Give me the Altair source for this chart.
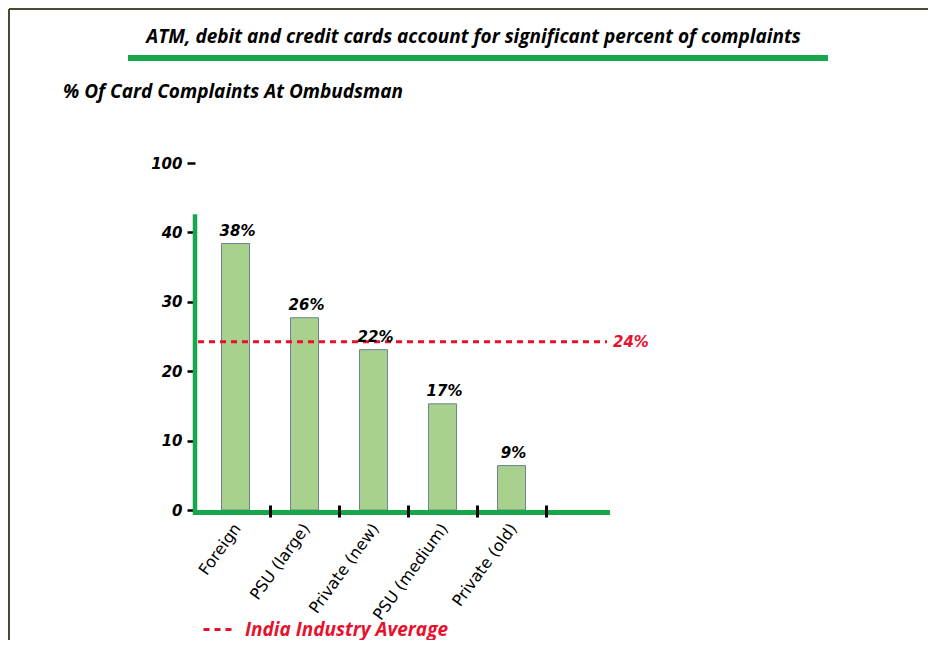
import altair as alt
import pandas as pd

# ---- data ----
categories = ["Foreign", "PSU (large)", "Private (new)", "PSU (medium)", "Private (old)"]
bar_values = [38.4, 27.7, 23.1, 15.3, 6.4]
bar_labels = ["38%", "26%", "22%", "17%", "9%"]

avg_series = ["India Industry Average"]
avg_values = [24.25]
avg_labels = ["24%"]

y_tick_values = [0, 10, 20, 30, 40, 50]
y_tick_texts = ["0", "10", "20", "30", "40", "100"]

title_text = ["ATM, debit and credit cards account for significant percent of complaints"]
subtitle_text = ["% Of Card Complaints At Ombudsman"]

# ---- styling ----
GREEN = "#17a64c"
RED = "#e8112d"
BAR_FILL = "#a9d18e"
BAR_STROKE = "#6b8291"
FRAME = "#4d4830"
HEAD_FONT = "Open Sans"
HEAD_SIZE = 19
W, H = 415, 347

bars_df = pd.DataFrame({"category": categories, "value": bar_values, "label": bar_labels})
avg_df = pd.DataFrame({"series": avg_series, "value": avg_values, "label": avg_labels})
one = pd.DataFrame({"k": [0]})
title_df = pd.DataFrame({"t": title_text})
sub_df = pd.DataFrame({"t": subtitle_text})

label_expr = "{" + ",".join(f"'{v}':'{t}'" for v, t in zip(y_tick_values, y_tick_texts)) + "}[datum.value]"

x_enc = alt.X(
    "category:N",
    sort=categories,
    title=None,
    scale=alt.Scale(paddingInner=0, paddingOuter=0.507, align=0.086),
    axis=alt.Axis(
        domain=False,
        ticks=True,
        tickColor="black",
        tickWidth=3,
        tickSize=12,
        bandPosition=1,
        offset=-5,
        labelAngle=-54,
        labelAlign="right",
        labelBaseline="middle",
        labelPadding=8,
        labelOffset=2,
        labelFont="DejaVu Sans",
        labelFontSize=16,
        labelColor="black",
        labelLimit=0,
        zindex=1,
        grid=False,
    ),
)

y_enc = alt.Y(
    "value:Q",
    title=None,
    scale=alt.Scale(domain=[0, 50], nice=False, zero=True),
    axis=alt.Axis(
        values=y_tick_values,
        labelExpr=label_expr,
        domain=False,
        grid=False,
        tickColor="black",
        tickSize=8,
        tickWidth=2.5,
        labelPadding=5,
        labelFont="DejaVu Sans",
        labelFontSize=15,
        labelFontWeight="bold",
        labelFontStyle="italic",
        labelColor="black",
    ),
)

bars = alt.Chart(bars_df).mark_bar(
    width=28, fill=BAR_FILL, stroke=BAR_STROKE, strokeWidth=1
).encode(x=x_enc, y=y_enc)

bar_text = alt.Chart(bars_df).mark_text(
    font="DejaVu Sans", fontSize=15, fontWeight="bold", fontStyle="italic",
    color="black", baseline="alphabetic", dy=-8, dx=2
).encode(x=alt.X("category:N", sort=categories), y="value:Q", text="label:N")

# green axis lines
y_line = alt.Chart(one).mark_rule(color=GREEN, strokeWidth=4.5).encode(
    x=alt.value(0), y=alt.datum(-0.7), y2=alt.datum(42.6)
)
x_line = alt.Chart(one).mark_rule(color=GREEN, strokeWidth=5, yOffset=2.5).encode(
    x=alt.value(-2), x2=alt.value(W), y=alt.datum(0)
)

avg_rule = alt.Chart(avg_df).mark_rule(strokeWidth=3, strokeDash=[6, 5]).encode(
    x=alt.value(3), x2=alt.value(412), y="value:Q",
    color=alt.Color(
        "series:N",
        scale=alt.Scale(range=[RED]),
        legend=alt.Legend(
            orient="none", legendX=7, legendY=451, title=None,
            symbolType="stroke", symbolSize=784, symbolStrokeWidth=3,
            symbolDash=[6, 5], symbolStrokeColor=RED,
            labelFont=HEAD_FONT, labelFontSize=HEAD_SIZE,
            labelFontWeight="bold", labelFontStyle="italic", labelColor=RED,
            labelOffset=12, labelLimit=0, padding=0,
        ),
    ),
)
avg_text = alt.Chart(avg_df).mark_text(
    font="DejaVu Sans", fontSize=15, fontWeight="bold", fontStyle="italic",
    color=RED, align="left", baseline="middle"
).encode(x=alt.value(418), y="value:Q", text="label:N")

title = alt.Chart(title_df).mark_text(
    font=HEAD_FONT, fontSize=HEAD_SIZE, fontWeight="bold", fontStyle="italic",
    color="black", align="center", baseline="alphabetic"
).encode(x=alt.value(278.5), y=alt.value(-120), text="t:N")
title_bar = alt.Chart(one).mark_rule(color=GREEN, strokeWidth=6).encode(
    x=alt.value(-67), x2=alt.value(633), y=alt.value(-105)
)
subtitle = alt.Chart(sub_df).mark_text(
    font=HEAD_FONT, fontSize=HEAD_SIZE, fontWeight="bold", fontStyle="italic",
    color="black", align="left", baseline="alphabetic"
).encode(x=alt.value(-132), y=alt.value(-65), text="t:N")

frame_top = alt.Chart(one).mark_rule(color=FRAME, strokeWidth=2).encode(
    x=alt.value(-186), x2=alt.value(745), y=alt.value(-154)
)
frame_left = alt.Chart(one).mark_rule(color=FRAME, strokeWidth=2).encode(
    x=alt.value(-186), y=alt.value(-154), y2=alt.value(490)
)

chart = alt.layer(
    frame_top, frame_left, title, title_bar, subtitle,
    bars, x_line, y_line, avg_rule, bar_text, avg_text,
).properties(
    width=W, height=H,
    autosize=alt.AutoSizeParams(type="none"),
    padding={"left": 187, "top": 155, "right": 318, "bottom": 130},
).configure(background="white", view=alt.ViewConfig(stroke=None))

chart.save("out.html", embed_options={"renderer": "svg", "actions": False})
